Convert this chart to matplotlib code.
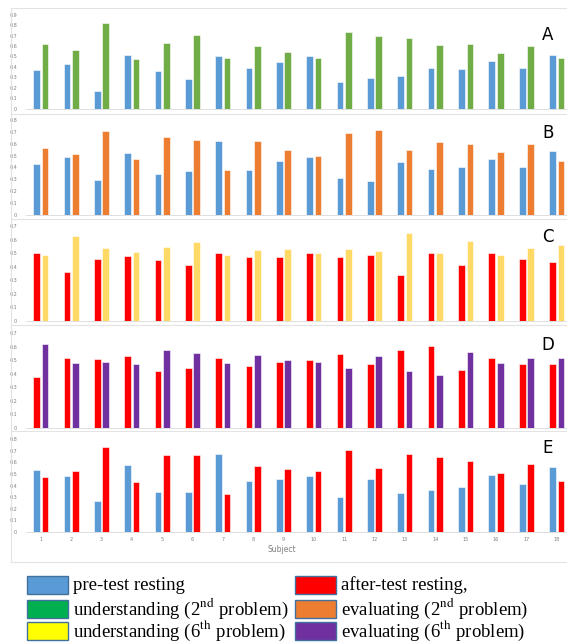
import matplotlib
matplotlib.use("Agg")
import matplotlib.pyplot as plt
from matplotlib.patches import Rectangle
from matplotlib.lines import Line2D
import numpy as np

W, H = 567, 643

subjects = list(range(1, 19))

pre_A = [0.37, 0.43, 0.17, 0.51, 0.36, 0.28, 0.50, 0.39, 0.45, 0.50, 0.26, 0.29, 0.31, 0.385, 0.38, 0.455, 0.39, 0.51]
und2 = [0.62, 0.56, 0.82, 0.48, 0.63, 0.71, 0.49, 0.60, 0.54, 0.49, 0.73, 0.70, 0.68, 0.61, 0.615, 0.535, 0.60, 0.485]

pre_B = [0.43, 0.49, 0.29, 0.52, 0.34, 0.37, 0.62, 0.375, 0.45, 0.49, 0.31, 0.285, 0.445, 0.39, 0.40, 0.47, 0.40, 0.54]
eva2 = [0.56, 0.51, 0.71, 0.47, 0.66, 0.63, 0.38, 0.62, 0.55, 0.50, 0.69, 0.715, 0.55, 0.61, 0.60, 0.53, 0.60, 0.45]

after_C = [0.50, 0.36, 0.46, 0.48, 0.45, 0.41, 0.50, 0.47, 0.47, 0.50, 0.47, 0.49, 0.34, 0.50, 0.41, 0.50, 0.46, 0.435]
und6 = [0.49, 0.63, 0.54, 0.51, 0.545, 0.585, 0.49, 0.525, 0.53, 0.50, 0.53, 0.515, 0.65, 0.50, 0.59, 0.49, 0.54, 0.56]

after_D = [0.38, 0.515, 0.51, 0.53, 0.42, 0.44, 0.515, 0.455, 0.49, 0.50, 0.55, 0.47, 0.575, 0.605, 0.43, 0.515, 0.47, 0.475]
eva6 = [0.62, 0.48, 0.485, 0.47, 0.575, 0.555, 0.48, 0.54, 0.50, 0.49, 0.44, 0.53, 0.42, 0.39, 0.56, 0.48, 0.52, 0.52]

pre_E = [0.53, 0.48, 0.265, 0.575, 0.34, 0.34, 0.675, 0.435, 0.455, 0.48, 0.30, 0.455, 0.335, 0.36, 0.39, 0.495, 0.41, 0.56]
after_E = [0.47, 0.525, 0.73, 0.43, 0.66, 0.66, 0.33, 0.565, 0.545, 0.525, 0.71, 0.55, 0.67, 0.645, 0.615, 0.505, 0.59, 0.44]

BLUE = "#5B9BD5"
GREEN = "#70AD47"
ORANGE = "#ED7D31"
RED = "#FF0000"
YELLOW = "#FFD966"
PURPLE = "#7030A0"

# (letter, left series, right series, colors, ymax, y of 0 px, y of ymax px, letter y px)
panels = [
    ("A", pre_A, und2, BLUE, GREEN, 0.9, 108.7, 14.7, 35),
    ("B", pre_B, eva2, BLUE, ORANGE, 0.8, 214.7, 120.0, 133),
    ("C", after_C, und6, RED, YELLOW, 0.7, 321.0, 226.0, 237),
    ("D", after_D, eva6, RED, PURPLE, 0.7, 428.0, 333.3, 345),
    ("E", pre_E, after_E, BLUE, RED, 0.8, 531.7, 439.3, 448),
]

fig = plt.figure(figsize=(W / 100, H / 100), dpi=100)
fig.patch.set_facecolor("white")

x0_px, x1_px = 25.5, 571.9
x = np.arange(len(subjects))
bw = 0.22
off = 0.138

for letter, s1, s2, c1, c2, ymax, y0px, ytpx, lety in panels:
    ax = fig.add_axes([x0_px / W, (H - y0px) / H, (x1_px - x0_px) / W, (y0px - ytpx) / H])
    ax.bar(x - off, s1, bw, color=c1, edgecolor="white", linewidth=0.4)
    ax.bar(x + off, s2, bw, color=c2, edgecolor="white", linewidth=0.4)
    ax.set_xlim(-0.5, len(subjects) - 0.5)
    ax.set_ylim(0, ymax)
    ticks = np.round(np.arange(0, ymax + 0.001, 0.1), 1)
    ax.set_yticks(ticks)
    ax.set_yticklabels(["0" if t == 0 else f"{t:g}" for t in ticks])
    ax.tick_params(axis="y", length=0, labelsize=3.5, labelcolor="#7f7f7f", pad=6)
    for sp in ["top", "right", "left"]:
        ax.spines[sp].set_visible(False)
    ax.spines["bottom"].set_color("#d9d9d9")
    ax.spines["bottom"].set_linewidth(0.6)
    ax.patch.set_alpha(0)
    if letter == "E":
        ax.set_xticks(x)
        ax.set_xticklabels([str(s) for s in subjects])
        ax.tick_params(axis="x", length=0, labelsize=3.5, labelcolor="#7f7f7f", pad=4)
    else:
        ax.set_xticks([])
    fig.text(548 / W, 1 - lety / H, letter, fontsize=12, ha="center", va="center", color="black")

fig.text(282 / W, 1 - 549 / H, "Subject", fontsize=5.5, color="#7f7f7f", ha="center", va="center")

# frame lines around the stacked charts
lc = "#e3e3e3"
for yy in [8, 114, 219, 325, 431, 562]:
    fig.add_artist(Line2D([10.7 / W, 1.0], [1 - yy / H, 1 - yy / H], color=lc, lw=0.8, transform=fig.transFigure))
fig.add_artist(Line2D([10.7 / W, 10.7 / W], [1 - 8 / H, 1 - 562 / H], color=lc, lw=0.8, transform=fig.transFigure))

# legend
plt.rcParams["mathtext.fontset"] = "stix"
leg_labels = ["pre-test resting", "understanding (2$^{\\rm nd}$ problem)", "understanding (6$^{\\rm th}$ problem)",
              "after-test resting,", "evaluating (2$^{\\rm nd}$ problem)", "evaluating (6$^{\\rm th}$ problem)"]
leg_colors = ["#5B9BD5", "#00B050", "#FFFF00", "#FF0000", "#ED7D31", "#7030A0"]
row_y = [576, 599.5, 621.5]
col_x = [27, 295]
for i, (lab, col) in enumerate(zip(leg_labels, leg_colors)):
    cx = col_x[i // 3]
    ry = row_y[i % 3]
    fig.add_artist(Rectangle((cx / W, 1 - (ry + 18) / H), 41 / W, 18 / H, facecolor=col,
                             edgecolor="#41719C", lw=1.0, transform=fig.transFigure))
    fig.text((cx + 46) / W, 1 - (ry + 9.5) / H, lab, fontsize=13.5, family="Liberation Serif",
             ha="left", va="center", color="black")

fig.savefig("out.png", dpi=100)
